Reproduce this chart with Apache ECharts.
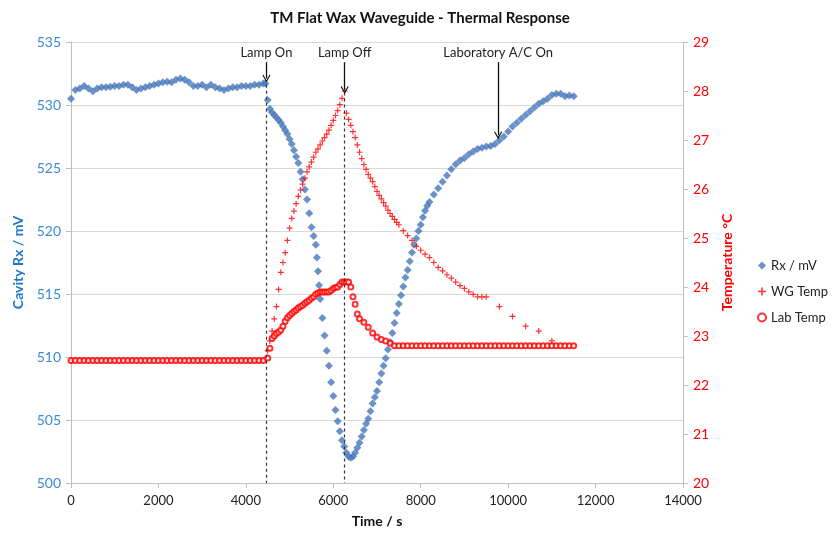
<!DOCTYPE html>
<html>
<head>
<meta charset="utf-8">
<script src="https://cdn.jsdelivr.net/npm/echarts@6/dist/echarts.min.js"></script>
<style>
  html, body { margin: 0; padding: 0; background: #fff; }
  #main { width: 840px; height: 540px; }
</style>
</head>
<body>
<div id="main"></div>
<script>
// Rx / mV : [time s, mV]
var rxData = [
  [0, 530.5], [100, 531.2], [200, 531.3], [300, 531.5], [400, 531.3], [500, 531.1],
  [600, 531.3], [700, 531.4], [800, 531.4], [900, 531.45], [1000, 531.5], [1100, 531.5],
  [1200, 531.6], [1300, 531.6], [1400, 531.4], [1500, 531.2], [1600, 531.3], [1700, 531.4],
  [1800, 531.5], [1900, 531.6], [2000, 531.7], [2100, 531.8], [2200, 531.85], [2300, 531.8],
  [2400, 532.0], [2500, 532.1], [2600, 532.0], [2700, 531.8], [2800, 531.5], [2900, 531.5],
  [3000, 531.6], [3100, 531.4], [3200, 531.6], [3300, 531.4], [3400, 531.3], [3500, 531.2],
  [3600, 531.3], [3700, 531.4], [3800, 531.4], [3900, 531.5], [4000, 531.5], [4100, 531.5],
  [4200, 531.6], [4300, 531.6], [4400, 531.7], [4450, 531.7],
  [4500, 530.4], [4550, 529.7], [4600, 529.4], [4650, 529.2], [4700, 529.0], [4750, 528.8],
  [4800, 528.6], [4850, 528.3], [4900, 528.0], [4950, 527.7], [5000, 527.3], [5050, 526.9],
  [5100, 526.4], [5150, 525.9], [5200, 525.4], [5250, 524.7], [5300, 524.1], [5350, 523.3],
  [5400, 522.5], [5450, 521.4], [5500, 520.3], [5550, 519.6], [5600, 518.9], [5625, 517.9],
  [5650, 516.8], [5675, 515.7], [5700, 514.6], [5750, 513.1], [5800, 511.7], [5850, 510.5],
  [5900, 509.3], [5950, 508.0], [6000, 506.9], [6050, 505.8], [6100, 504.9], [6150, 504.1],
  [6200, 503.4], [6250, 502.9], [6300, 502.4], [6350, 502.1], [6400, 502.0], [6450, 502.1],
  [6500, 502.4], [6550, 502.8], [6600, 503.2], [6650, 503.7], [6700, 504.2], [6750, 504.7],
  [6800, 505.1], [6850, 505.7], [6900, 506.3], [6950, 506.8], [7000, 507.3], [7050, 508.0],
  [7100, 508.7], [7150, 509.3], [7200, 509.9], [7250, 510.6], [7300, 511.2], [7350, 511.9],
  [7400, 512.7], [7450, 513.5], [7500, 514.2], [7550, 514.9], [7600, 515.6], [7650, 516.3],
  [7700, 516.9], [7750, 517.6], [7800, 518.3], [7850, 518.9], [7900, 519.4], [7950, 520.0],
  [8000, 520.5], [8050, 521.1], [8100, 521.6], [8150, 522.0], [8200, 522.3], [8300, 522.9],
  [8400, 523.4], [8500, 523.9], [8600, 524.4], [8700, 524.9], [8800, 525.3], [8900, 525.6],
  [9000, 525.8], [9100, 526.1], [9200, 526.3], [9300, 526.5], [9400, 526.6], [9500, 526.7],
  [9600, 526.75], [9700, 526.9], [9800, 527.2], [9900, 527.5], [10000, 527.9], [10100, 528.3],
  [10200, 528.6], [10300, 528.9], [10400, 529.2], [10500, 529.5], [10600, 529.8], [10700, 530.1],
  [10800, 530.3], [10900, 530.5], [11000, 530.8], [11100, 530.9], [11200, 530.9], [11300, 530.7],
  [11400, 530.75], [11500, 530.7]
];

// WG Temp : [time s, °C]
var wgTempData = [
  [0, 22.5], [100, 22.5], [200, 22.5], [300, 22.5], [400, 22.5], [500, 22.5], [600, 22.5],
  [700, 22.5], [800, 22.5], [900, 22.5], [1000, 22.5], [1100, 22.5], [1200, 22.5], [1300, 22.5],
  [1400, 22.5], [1500, 22.5], [1600, 22.5], [1700, 22.5], [1800, 22.5], [1900, 22.5], [2000, 22.5],
  [2100, 22.5], [2200, 22.5], [2300, 22.5], [2400, 22.5], [2500, 22.5], [2600, 22.5], [2700, 22.5],
  [2800, 22.5], [2900, 22.5], [3000, 22.5], [3100, 22.5], [3200, 22.5], [3300, 22.5], [3400, 22.5],
  [3500, 22.5], [3600, 22.5], [3700, 22.5], [3800, 22.5], [3900, 22.5], [4000, 22.5], [4100, 22.5],
  [4200, 22.5], [4300, 22.5], [4400, 22.5],
  [4500, 22.7], [4550, 22.9], [4600, 23.1], [4650, 23.35], [4700, 23.6], [4750, 23.95],
  [4800, 24.3], [4850, 24.5], [4900, 24.7], [4950, 24.95], [5000, 25.2], [5050, 25.4],
  [5100, 25.55], [5150, 25.7], [5200, 25.85], [5250, 25.98], [5300, 26.1], [5350, 26.22],
  [5400, 26.35], [5450, 26.45], [5500, 26.55], [5550, 26.65], [5600, 26.75], [5650, 26.82],
  [5700, 26.9], [5750, 26.98], [5800, 27.05], [5850, 27.12], [5900, 27.2], [5950, 27.3],
  [6000, 27.4], [6050, 27.5], [6100, 27.6], [6150, 27.72], [6200, 27.85], [6260, 28.0],
  [6300, 27.55], [6350, 27.42], [6400, 27.3], [6450, 27.17], [6500, 27.05], [6550, 26.9],
  [6600, 26.75], [6650, 26.62], [6700, 26.5], [6750, 26.4], [6800, 26.3], [6850, 26.22],
  [6900, 26.15], [6950, 26.05], [7000, 25.95], [7050, 25.87], [7100, 25.8], [7150, 25.72],
  [7200, 25.65], [7250, 25.57], [7300, 25.5], [7350, 25.44], [7400, 25.38], [7450, 25.32],
  [7500, 25.27], [7600, 25.15], [7700, 25.05], [7800, 24.95], [7900, 24.83],
  [8000, 24.75], [8100, 24.67], [8200, 24.6], [8300, 24.5], [8400, 24.4], [8500, 24.33],
  [8600, 24.25], [8700, 24.18], [8800, 24.1], [8900, 24.03], [9000, 23.97], [9100, 23.9],
  [9200, 23.85], [9300, 23.8], [9400, 23.8], [9500, 23.8],
  [9800, 23.6], [10100, 23.4], [10400, 23.2], [10700, 23.1], [11000, 22.9]
];

// Lab Temp : [time s, °C]
var labTempData = [
  [0, 22.5], [100, 22.5], [200, 22.5], [300, 22.5], [400, 22.5], [500, 22.5], [600, 22.5],
  [700, 22.5], [800, 22.5], [900, 22.5], [1000, 22.5], [1100, 22.5], [1200, 22.5], [1300, 22.5],
  [1400, 22.5], [1500, 22.5], [1600, 22.5], [1700, 22.5], [1800, 22.5], [1900, 22.5], [2000, 22.5],
  [2100, 22.5], [2200, 22.5], [2300, 22.5], [2400, 22.5], [2500, 22.5], [2600, 22.5], [2700, 22.5],
  [2800, 22.5], [2900, 22.5], [3000, 22.5], [3100, 22.5], [3200, 22.5], [3300, 22.5], [3400, 22.5],
  [3500, 22.5], [3600, 22.5], [3700, 22.5], [3800, 22.5], [3900, 22.5], [4000, 22.5], [4100, 22.5],
  [4200, 22.5], [4300, 22.5], [4400, 22.5],
  [4500, 22.55], [4550, 22.75], [4600, 22.95], [4650, 23.0], [4700, 23.05], [4750, 23.08],
  [4800, 23.12], [4850, 23.2], [4900, 23.3], [4950, 23.37], [5000, 23.42], [5050, 23.46],
  [5100, 23.5], [5150, 23.53], [5200, 23.57], [5250, 23.6], [5300, 23.63], [5350, 23.67],
  [5400, 23.7], [5450, 23.73], [5500, 23.77], [5550, 23.8], [5600, 23.85], [5650, 23.88],
  [5700, 23.9], [5750, 23.9], [5800, 23.9], [5850, 23.9], [5900, 23.9], [5950, 23.93],
  [6000, 23.97], [6050, 23.99], [6100, 24.0], [6150, 24.05], [6200, 24.1], [6250, 24.1],
  [6300, 24.1], [6350, 24.1], [6400, 24.0], [6450, 23.8], [6500, 23.65],
  [6550, 23.45], [6600, 23.35], [6700, 23.28], [6800, 23.18], [6900, 23.06], [7000, 22.98],
  [7100, 22.93], [7200, 22.9], [7300, 22.85], [7400, 22.8], [7500, 22.8], [7600, 22.8],
  [7700, 22.8], [7800, 22.8], [7900, 22.8], [8000, 22.8], [8100, 22.8], [8200, 22.8],
  [8300, 22.8], [8400, 22.8], [8500, 22.8], [8600, 22.8], [8700, 22.8], [8800, 22.8],
  [8900, 22.8], [9000, 22.8], [9100, 22.8], [9200, 22.8], [9300, 22.8], [9400, 22.8],
  [9500, 22.8], [9600, 22.8], [9700, 22.8], [9800, 22.8], [9900, 22.8], [10000, 22.8],
  [10100, 22.8], [10200, 22.8], [10300, 22.8], [10400, 22.8], [10500, 22.8], [10600, 22.8],
  [10700, 22.8], [10800, 22.8], [10900, 22.8], [11000, 22.8], [11100, 22.8], [11200, 22.8],
  [11300, 22.8], [11400, 22.8], [11500, 22.8]
];

// annotations: [label, time, arrow start mV, arrow end mV]
var notes = [
  ["Lamp On", 4470, 533.4, 532.1],
  ["Lamp Off", 6260, 533.4, 531.2],
  ["Laboratory A/C On", 9770, 533.4, 527.6]
];
// dashed event lines: [time, top mV]
var eventLines = [[4470, 531.6], [6260, 531.0]];

var FONT = "Lato, 'Open Sans', sans-serif";
var BLUE = "#4677BA";
var RED = "#FF0000";
var plusPath = "path://M4,0 H6 V4 H10 V6 H6 V10 H4 V6 H0 V4 H4 Z";
var chevron = "path://M0,9 L5,0 L10,9 L9,10 L5,3 L1,10 Z";

var myChart = echarts.init(document.getElementById("main"));

var markData = [];
notes.forEach(function (n) {
  markData.push([
    { coord: [n[1], n[2]], label: { formatter: n[0] } },
    { coord: [n[1], n[3]] }
  ]);
});
eventLines.forEach(function (e) {
  markData.push([
    { coord: [e[0], e[1]], symbol: "none", lineStyle: { type: [3, 3], width: 1.2, color: "#333" }, label: { show: false } },
    { coord: [e[0], 500], symbol: "none" }
  ]);
});

myChart.setOption({
  animation: false,
  textStyle: { fontFamily: FONT },
  title: {
    text: "TM Flat Wax Waveguide - Thermal Response",
    left: "center",
    top: 6,
    textStyle: { fontFamily: FONT, fontSize: 15, fontWeight: "bold", color: "#111" }
  },
  grid: { left: 71, right: 157, top: 42, bottom: 57 },
  legend: {
    orient: "vertical",
    left: 752,
    top: 254,
    itemGap: 13,
    itemWidth: 8,
    itemHeight: 8,
    textStyle: { fontFamily: FONT, fontSize: 13, color: "#222" },
    data: [
      { name: "Rx / mV", icon: "diamond" },
      { name: "WG Temp", icon: plusPath },
      { name: "Lab Temp", icon: "emptyCircle" }
    ]
  },
  xAxis: {
    type: "value",
    min: 0,
    max: 14000,
    interval: 2000,
    name: "Time / s",
    nameLocation: "middle",
    nameGap: 31,
    nameTextStyle: { fontFamily: FONT, fontSize: 14, fontWeight: "bold", color: "#111" },
    axisLine: { lineStyle: { color: "#BFBFBF" } },
    axisTick: { show: true, length: 5, lineStyle: { color: "#BFBFBF" } },
    axisLabel: { fontSize: 13, color: "#222", margin: 11, formatter: function (v) { return String(v); } },
    splitLine: { show: false }
  },
  yAxis: [
    {
      type: "value",
      min: 500,
      max: 535,
      interval: 5,
      position: "left",
      name: "Cavity Rx / mV",
      nameLocation: "middle",
      nameRotate: 90,
      nameGap: 44,
      nameTextStyle: { fontFamily: FONT, fontSize: 14, fontWeight: "bold", color: "#1B76C8" },
      axisLine: { show: true, lineStyle: { color: "#BFBFBF" } },
      axisTick: { show: true, length: 5, lineStyle: { color: "#BFBFBF" } },
      axisLabel: { fontSize: 14, color: "#3A8BD4", margin: 10 },
      splitLine: { show: true, lineStyle: { color: "#D9D9D9", width: 1.2 } }
    },
    {
      type: "value",
      min: 20,
      max: 29,
      interval: 1,
      position: "right",
      name: "Temperature °C",
      nameLocation: "middle",
      nameRotate: 90,
      nameGap: 36,
      nameTextStyle: { fontFamily: FONT, fontSize: 14, fontWeight: "bold", color: RED },
      axisLine: { show: true, lineStyle: { color: "#BFBFBF" } },
      axisTick: { show: true, length: 5, lineStyle: { color: "#BFBFBF" } },
      axisLabel: { fontSize: 14, color: RED, margin: 10 },
      splitLine: { show: false }
    }
  ],
  series: [
    {
      name: "Rx / mV",
      type: "scatter",
      yAxisIndex: 0,
      symbol: "diamond",
      symbolSize: 8,
      itemStyle: { color: BLUE },
      data: rxData,
      z: 2,
      markLine: {
        silent: true,
        symbol: ["none", chevron],
        symbolSize: [8, 8],
        lineStyle: { color: "#111", width: 1.3, type: "solid" },
        label: {
          show: true,
          position: "start",
          distance: 3,
          color: "#222",
          fontFamily: FONT,
          fontSize: 13
        },
        data: markData
      }
    },
    {
      name: "WG Temp",
      type: "scatter",
      yAxisIndex: 1,
      symbol: plusPath,
      symbolSize: 6,
      itemStyle: { color: RED },
      data: wgTempData,
      z: 3
    },
    {
      name: "Lab Temp",
      type: "scatter",
      yAxisIndex: 1,
      symbol: "emptyCircle",
      symbolSize: 5,
      itemStyle: { color: RED, borderColor: RED, borderWidth: 1.3 },
      data: labTempData,
      z: 4
    }
  ]
});
</script>
</body>
</html>
